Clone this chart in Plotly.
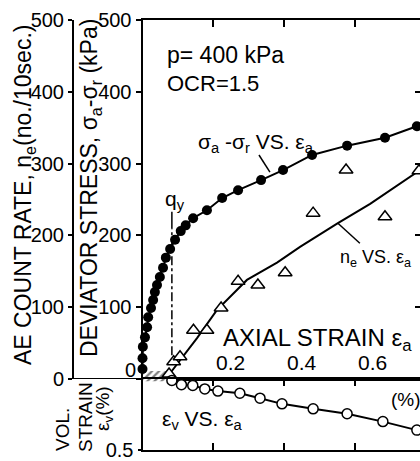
import plotly.graph_objects as go

# Deviator stress vs axial strain (filled circles)
eps_stress = [0.000, 0.000, 0.001, 0.007, 0.013, 0.016, 0.024, 0.030, 0.035, 0.041,
              0.049, 0.058, 0.066, 0.078, 0.092, 0.108, 0.122, 0.143, 0.182, 0.225,
              0.270, 0.335, 0.397, 0.479, 0.578, 0.685, 0.775]
stress = [14, 29, 45, 58, 72, 86, 99, 110, 121, 131,
          142, 155, 169, 181, 194, 206, 214, 224, 235, 252,
          263, 277, 291, 312, 325, 336, 352]

# AE count rate vs axial strain (open triangles)
eps_ae = [0.075, 0.088, 0.106, 0.144, 0.182, 0.222, 0.270, 0.326, 0.403, 0.482, 0.575, 0.685, 0.781]
ae_rate = [7, 24, 31, 68, 68, 99, 136, 131, 148, 231, 291, 226, 290]

# hand-drawn trend line through the AE data
eps_ae_line = [0.078, 0.100, 0.154, 0.210, 0.295, 0.380, 0.445, 0.552, 0.643, 0.784]
ae_line = [8, 22, 57, 96, 138, 162, 184, 217, 244, 291]

# Volumetric strain vs axial strain (open circles)
eps_vol = [0.083, 0.110, 0.142, 0.176, 0.213, 0.275, 0.332, 0.394, 0.482, 0.578, 0.679, 0.775]
vol = [0.01, 0.04, 0.045, 0.07, 0.085, 0.10, 0.135, 0.175, 0.21, 0.245, 0.30, 0.36]

# yield point and axis ticks
eps_qy = 0.083
stress_ticks = [0, 100, 200, 300, 400, 500]
strain_ticks = [0.2, 0.4, 0.6]
strain_tick_text = ["0.2", "0.4", "0.6"]

W, H = 420, 461
FONT = "Liberation Sans"
X_RANGE = [0, 0.7839]


def px(x):
    return x / W


def py(y):
    return 1 - y / H


fig = go.Figure()

# hatched zone before yielding (straddles the shared strain axis)
hatch = dict(shape="/", fgcolor="black", bgcolor="white", size=5, solidity=0.45)
fig.add_trace(go.Scatter(
    x=[0, eps_qy, eps_qy, 0, 0], y=[0, 0, 11, 11, 0],
    xaxis="x", yaxis="y", mode="lines", fill="toself",
    line=dict(width=0, color="black"), fillcolor="white", fillpattern=hatch,
    hoverinfo="skip", showlegend=False))
fig.add_trace(go.Scatter(
    x=[0, eps_qy, eps_qy, 0, 0], y=[0, 0, 0.015, 0.015, 0],
    xaxis="x2", yaxis="y4", mode="lines", fill="toself",
    line=dict(width=0, color="black"), fillcolor="white", fillpattern=hatch,
    hoverinfo="skip", showlegend=False))

# AE trend line and data
fig.add_trace(go.Scatter(
    x=eps_ae_line, y=ae_line, xaxis="x", yaxis="y3", mode="lines",
    line=dict(color="black", width=2), showlegend=False))
fig.add_trace(go.Scatter(
    x=eps_ae, y=ae_rate, xaxis="x", yaxis="y3", mode="markers",
    marker=dict(symbol="triangle-up", size=12, color="white",
                line=dict(color="black", width=1.5)),
    showlegend=False, cliponaxis=False))

# deviator stress curve
fig.add_trace(go.Scatter(
    x=eps_stress, y=stress, xaxis="x", yaxis="y", mode="lines+markers",
    line=dict(color="black", width=2),
    marker=dict(symbol="circle", size=10, color="black"),
    showlegend=False, cliponaxis=False))

# volumetric strain curve
fig.add_trace(go.Scatter(
    x=eps_vol, y=vol, xaxis="x2", yaxis="y4", mode="lines+markers",
    line=dict(color="black", width=2),
    marker=dict(symbol="circle", size=10, color="white",
                line=dict(color="black", width=1.5)),
    showlegend=False, cliponaxis=False))

axis_common = dict(showgrid=False, zeroline=False, linecolor="black", linewidth=2,
                   tickcolor="black", tickwidth=2, automargin=False,
                   tickfont=dict(family=FONT, size=20, color="black"))

fig.update_layout(
    width=W, height=H,
    margin=dict(l=0, r=0, t=0, b=0, pad=0, autoexpand=False),
    paper_bgcolor="white", plot_bgcolor="white",
    font=dict(family=FONT, color="black"),
    xaxis=dict(domain=[px(142.5), 1], range=X_RANGE, anchor="y", side="top",
               showline=True, mirror=True, ticks="inside", ticklen=7,
               tickvals=strain_ticks, showticklabels=False, **axis_common),
    xaxis2=dict(domain=[px(142.5), 1], range=X_RANGE, anchor="y4", side="bottom",
                showline=True, mirror="ticks", ticks="inside", ticklen=7,
                tickvals=strain_ticks, showticklabels=False, **axis_common),
    yaxis=dict(domain=[py(379), py(20)], range=[0, 500], anchor="x",
               showline=True, ticks="outside", ticklen=5,
               tickvals=stress_ticks,
               ticktext=["" if v == 0 else str(v) for v in stress_ticks],
               **axis_common),
    yaxis2=dict(overlaying="y", side="right", anchor="x", range=[0, 500],
                showline=False, ticks="inside", ticklen=5,
                tickvals=[100, 200, 300, 400], showticklabels=False,
                showgrid=False, zeroline=False, tickcolor="black", tickwidth=2),
    yaxis3=dict(overlaying="y", side="left", anchor="free", position=px(73),
                range=[0, 500], showline=True, ticks="outside", ticklen=4,
                tickvals=stress_ticks, **axis_common),
    yaxis4=dict(domain=[py(450), py(379)], range=[0.5, 0], anchor="x2",
                showline=True, ticks="outside", ticklen=3,
                tickvals=[0.5], ticktext=["0.5"], **axis_common),
)

# keep the right-hand tick axis registered
fig.add_trace(go.Scatter(x=[None], y=[None], xaxis="x", yaxis="y2", showlegend=False))

shapes = [
    # base line joining the two stress axes
    dict(type="line", xref="paper", yref="y", x0=px(73), x1=px(142.5), y0=0, y1=0,
         line=dict(color="black", width=2)),
    # yield marker q_y
    dict(type="line", xref="x", yref="y", x0=eps_qy, x1=eps_qy, y0=210, y1=233,
         line=dict(color="black", width=1.5)),
    dict(type="line", xref="x", yref="y", x0=eps_qy, x1=eps_qy, y0=33, y1=210,
         line=dict(color="black", width=1.5, dash="dashdot")),
    # leaders to the curve labels
    dict(type="line", xref="x", yref="y", x0=0.329, x1=0.360, y0=312, y1=288,
         line=dict(color="black", width=1.5)),
    dict(type="line", xref="x", yref="y3", x0=0.552, x1=0.614, y0=217, y1=189,
         line=dict(color="black", width=1.5)),
]


def text(s, x, y, size, xanchor="left", yanchor="middle", angle=0):
    return dict(text=s, x=x, y=y, xref="paper", yref="paper", showarrow=False,
                xanchor=xanchor, yanchor=yanchor, textangle=angle,
                font=dict(family=FONT, size=size, color="black"))


annotations = [
    text("p= 400 kPa", px(165), py(55), 23),
    text("OCR=1.5", px(165), py(84), 22),
    text("σ<sub>a</sub> -σ<sub>r</sub> VS. ε<sub>a</sub>", px(196), py(143), 21),
    text("n<sub>e</sub> VS. ε<sub>a</sub>", px(338), py(258), 18),
    text("AXIAL STRAIN ε<sub>a</sub>", px(221), py(339), 24),
    text("(%)", px(406), py(399), 19, xanchor="center"),
    text("ε<sub>v</sub> VS. ε<sub>a</sub>", px(160), py(420), 21),
    text("q<sub>y</sub>", px(163), py(200), 21),
    text("0", px(138), py(370), 20, xanchor="right"),
    text("AE COUNT RATE, n<sub>e</sub>(no./10sec.)", px(24), py(195), 23,
         xanchor="center", angle=-90),
    text("DEVIATOR STRESS, σ<sub>a</sub>-σ<sub>r</sub> (kPa)", px(90), py(188), 23,
         xanchor="center", angle=-90),
    text("VOL.", px(62), py(430), 19, xanchor="center", angle=-90),
    text("STRAIN", px(85), py(417), 19, xanchor="center", angle=-90),
    text("ε<sub>v</sub>(%)", px(104), py(409), 19, xanchor="center", angle=-90),
]
for v, t in zip(strain_ticks, strain_tick_text):
    annotations.append(dict(text=t, x=v, y=4, xref="x", yref="y", showarrow=False,
                            xanchor="left", yanchor="bottom", xshift=1,
                            font=dict(family=FONT, size=21, color="black")))

fig.update_layout(shapes=shapes, annotations=annotations)

fig.write_html("out.html", config={"displayModeBar": False})
